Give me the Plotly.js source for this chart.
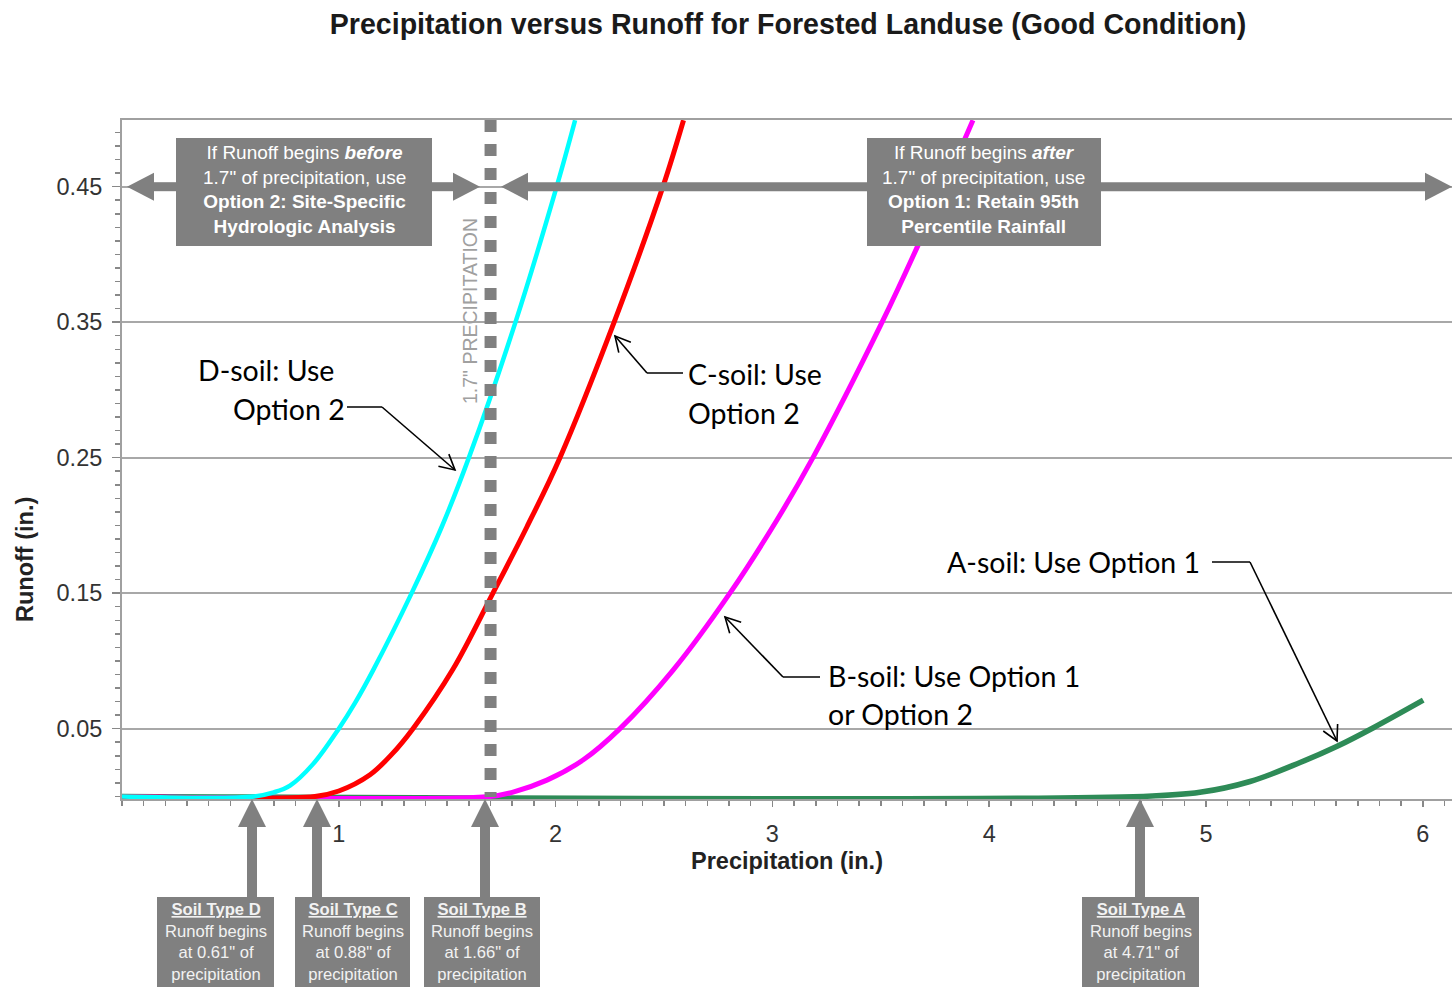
<!DOCTYPE html>
<html>
<head>
<meta charset="utf-8">
<script src="https://cdn.plot.ly/plotly-3.0.1.min.js"></script>
<style>html,body{margin:0;padding:0;background:#fff;}#chart{width:1452px;height:987px;}</style>
</head>
<body>
<div id="chart"></div>
<script>
// ---------- DATA ----------
const precipD = [0, 0.61, 0.70, 0.775, 0.882, 1.0, 1.075, 1.158, 1.336, 1.475, 1.60, 1.815, 2.005, 2.09];
const runoffD = [0, 0, 0.003, 0.008, 0.024, 0.05, 0.069, 0.093, 0.15, 0.199, 0.25, 0.35, 0.45, 0.499];

const precipC = [0, 0.89, 1.0, 1.144, 1.244, 1.342, 1.527, 1.711, 1.868, 2.02, 2.27, 2.495, 2.59];
const runoffC = [0, 0, 0.004, 0.016, 0.031, 0.05, 0.094, 0.15, 0.199, 0.25, 0.35, 0.45, 0.499];

const precipB = [0, 1.697, 1.80, 1.96, 2.128, 2.297, 2.541, 2.804, 3.021, 3.187, 3.506, 3.681, 3.925];
const runoffB = [0, 0, 0.003, 0.012, 0.027, 0.05, 0.093, 0.15, 0.204, 0.25, 0.35, 0.41, 0.499];

const precipA = [0, 4.71, 4.972, 5.203, 5.434, 5.605, 5.77, 6.002];
const runoffA = [0, 0, 0.003, 0.011, 0.025, 0.037, 0.0505, 0.071];

const xTickVals = [1, 2, 3, 4, 5, 6];
const xTickText = ['1', '2', '3', '4', '5', '6'];
const yTickVals = [0.05, 0.15, 0.25, 0.35, 0.45];
const yTickText = ['0.05', '0.15', '0.25', '0.35', '0.45'];

const thresholdPrecip = 1.7;
const onsetLabels = ['0.61', '0.88', '1.66', '4.71'];
const soilNames = ['D', 'C', 'B', 'A'];

// ---------- LAYOUT HELPERS (page pixels -> paper) ----------
const PL = 122, PR = 1452, PT = 120, PB = 799;
const px2x = p => (p - PL) / (PR - PL);
const py2y = p => (PB - p) / (PB - PT);
const GREY = '#808080';
const FONT = 'Liberation Sans, Arial, sans-serif';
const CALLFONT = 'Lato, Open Sans, sans-serif';

const shapes = [];
function rectPx(x0, y0, x1, y1, color, layer) {
  shapes.push({type: 'rect', xref: 'paper', yref: 'paper',
    x0: px2x(x0), x1: px2x(x1), y0: py2y(y1), y1: py2y(y0),
    fillcolor: color, line: {width: 0}, layer: layer || 'above'});
}
function polyPx(pts, color, layer) {
  const d = pts.map((p, i) => (i ? 'L' : 'M') + px2x(p[0]) + ',' + py2y(p[1])).join(' ') + ' Z';
  shapes.push({type: 'path', xref: 'paper', yref: 'paper', path: d,
    fillcolor: color, line: {width: 0}, layer: layer || 'above'});
}
function linePx(x0, y0, x1, y1, color, width) {
  shapes.push({type: 'line', xref: 'paper', yref: 'paper',
    x0: px2x(x0), y0: py2y(y0), x1: px2x(x1), y1: py2y(y1),
    line: {color: color, width: width}, layer: 'above'});
}
function vHead(tx, ty, fx, fy) {
  const L = 17, a = 28 * Math.PI / 180;
  const dx = tx - fx, dy = ty - fy, n = Math.hypot(dx, dy);
  const ux = dx / n, uy = dy / n;
  const r = s => [tx - L * (ux * Math.cos(s * a) - uy * Math.sin(s * a)),
                  ty - L * (ux * Math.sin(s * a) + uy * Math.cos(s * a))];
  const p1 = r(1), p2 = r(-1);
  const d = 'M' + px2x(p1[0]) + ',' + py2y(p1[1]) + ' L' + px2x(tx) + ',' + py2y(ty) +
            ' L' + px2x(p2[0]) + ',' + py2y(p2[1]);
  shapes.push({type: 'path', xref: 'paper', yref: 'paper', path: d,
    line: {color: '#000', width: 1.6}, layer: 'above'});
}
function callout(pts) {
  for (let i = 0; i < pts.length - 1; i++) linePx(pts[i][0], pts[i][1], pts[i + 1][0], pts[i + 1][1], '#000', 1.6);
  const n = pts.length;
  vHead(pts[n - 1][0], pts[n - 1][1], pts[n - 2][0], pts[n - 2][1]);
}

// ---- horizontal grey double arrows at 0.45 ----
const AY = 186.7, SH = 4.5, HH = 14, HL = 27;
rectPx(127 + HL - 1, AY - SH, 177, AY + SH, GREY, 'above');
polyPx([[127, AY], [127 + HL, AY - HH], [127 + HL, AY + HH]], GREY, 'above');
rectPx(431, AY - SH, 480 - HL + 1, AY + SH, GREY, 'above');
polyPx([[480, AY], [480 - HL, AY - HH], [480 - HL, AY + HH]], GREY, 'above');
rectPx(501 + HL - 1, AY - SH, 868, AY + SH, GREY, 'above');
polyPx([[501, AY], [501 + HL, AY - HH], [501 + HL, AY + HH]], GREY, 'above');
rectPx(1100, AY - SH, 1452 - HL + 1, AY + SH, GREY, 'above');
polyPx([[1452, AY], [1452 - HL, AY - HH], [1452 - HL, AY + HH]], GREY, 'above');

// ---- top boxes ----
rectPx(176, 138, 432, 246, GREY, 'above');
rectPx(867, 138, 1101, 246, GREY, 'above');

// ---- threshold dotted line ----
shapes.push({type: 'line', xref: 'x', yref: 'paper', x0: thresholdPrecip, x1: thresholdPrecip,
  y0: 1, y1: py2y(797), line: {color: GREY, width: 12, dash: '12px,12px'}, layer: 'above'});

// ---- bottom boxes and upward arrows ----
const boxes = [[157, 274, 252], [295, 410, 317], [424, 540, 485], [1082, 1199, 1140]];
boxes.forEach(b => {
  rectPx(b[0], 897, b[1], 990, GREY, 'above');
  rectPx(b[2] - 5, 826, b[2] + 5, 898, GREY, 'above');
  polyPx([[b[2], 799], [b[2] - 14, 827], [b[2] + 14, 827]], GREY, 'above');
});

// ---- black callouts ----
callout([[347, 407], [382, 407], [455, 470]]);
callout([[683, 373], [647, 373], [615, 336]]);
callout([[820, 677], [783, 677], [725, 617]]);
callout([[1212, 562], [1250, 562], [1337, 741]]);

// ---------- ANNOTATIONS ----------
const annotations = [];
function textPx(x, y, text, opts) {
  annotations.push(Object.assign({xref: 'paper', yref: 'paper', x: px2x(x), y: py2y(y),
    text: text, showarrow: false, xanchor: 'center', yanchor: 'middle'}, opts));
}
textPx(304, 189, 'If Runoff begins <b><i>before</i></b><br>1.7" of precipitation, use<br><b>Option 2: Site-Specific</b><br><b>Hydrologic Analysis</b>',
  {font: {family: FONT, size: 19, color: '#ffffff'}, align: 'center'});
textPx(984, 189, 'If Runoff begins <b><i>after</i></b><br>1.7" of precipitation, use<br><b>Option 1: Retain 95th</b><br><b>Percentile Rainfall</b>',
  {font: {family: FONT, size: 19, color: '#ffffff'}, align: 'center'});
textPx(470, 311, '1.7" PRECIPITATION', {textangle: -90, font: {family: FONT, size: 19.5, color: '#a0a0a0'}});

boxes.forEach((b, i) => {
  textPx((b[0] + b[1]) / 2, 942, '<b><u>Soil Type ' + soilNames[i] + '</u></b><br>Runoff begins<br>at ' + onsetLabels[i] + '" of<br>precipitation',
    {font: {family: FONT, size: 16.6, color: '#f2f2f2'}, align: 'center'});
});

const cf = {family: CALLFONT, size: 28.5, color: '#000'};
textPx(196, 370, 'D-soil: Use', {xanchor: 'left', font: cf});
textPx(231, 409, 'Option 2', {xanchor: 'left', font: cf});
textPx(686, 374, 'C-soil: Use', {xanchor: 'left', font: cf});
textPx(686, 413, 'Option 2', {xanchor: 'left', font: cf});
textPx(945, 562, 'A-soil: Use Option 1', {xanchor: 'left', font: cf});
textPx(826, 676, 'B-soil: Use Option 1', {xanchor: 'left', font: cf});
textPx(826, 714, 'or Option 2', {xanchor: 'left', font: cf});

textPx(25, 560, '<b>Runoff (in.)</b>', {textangle: -90, font: {family: FONT, size: 23.5, color: '#222'}});

// ---------- TRACES ----------
function curve(x, y, color, w, name) {
  return {x: x, y: y, type: 'scatter', mode: 'lines', name: name,
    line: {color: color, width: w, shape: 'spline', smoothing: 1.0}, hoverinfo: 'skip'};
}
const traces = [
  curve(precipA, runoffA, '#2e8b57', 5.5, 'Soil Type A'),
  curve(precipB, runoffB, '#ff00ff', 5, 'Soil Type B'),
  curve(precipC, runoffC, '#ff0000', 5, 'Soil Type C'),
  curve(precipD, runoffD, '#00ffff', 4.5, 'Soil Type D')
];

const layout = {
  width: 1452, height: 987,
  margin: {l: PL, r: 1452 - PR, t: PT, b: 987 - PB, pad: 0},
  paper_bgcolor: '#ffffff', plot_bgcolor: '#ffffff',
  showlegend: false,
  font: {family: FONT, color: '#333'},
  title: {text: '<b>Precipitation versus Runoff for Forested Landuse (Good Condition)</b>',
    font: {family: FONT, size: 28.6, color: '#1a1a1a'},
    x: 788 / 1452, xanchor: 'center', xref: 'container', y: 1 - 24 / 987, yanchor: 'middle', yref: 'container'},
  xaxis: {
    range: [0, (PR - PL) / 216.8], showgrid: false, zeroline: false,
    showline: true, linecolor: '#a0a0a0', linewidth: 2, mirror: true,
    tickmode: 'array', tickvals: xTickVals, ticktext: xTickText,
    ticks: 'outside', ticklen: 6, tickcolor: '#888', tickwidth: 1.5,
    tickfont: {family: FONT, size: 23.5, color: '#333'}, ticklabelstandoff: 7,
    minor: {tickmode: 'linear', tick0: 0, dtick: 0.1, ticks: 'outside', ticklen: 5, tickcolor: '#888', tickwidth: 1.5, showgrid: false},
    title: {text: '<b>Precipitation (in.)</b>', font: {family: FONT, size: 23.5, color: '#222'}, standoff: 6},
    fixedrange: true
  },
  yaxis: {
    range: [-(PB - 796.4) / 1355, (796.4 - PT) / 1355], showgrid: true, gridcolor: '#a8a8a8', gridwidth: 2,
    zeroline: false, showline: true, linecolor: '#a0a0a0', linewidth: 2,
    tickmode: 'array', tickvals: yTickVals, ticktext: yTickText,
    ticks: 'outside', ticklen: 8, tickcolor: '#888', tickwidth: 1.5,
    tickfont: {family: FONT, size: 23.5, color: '#333'}, ticklabelstandoff: 5,
    minor: {tickmode: 'linear', tick0: 0, dtick: 0.01, ticks: 'outside', ticklen: 5, tickcolor: '#888', tickwidth: 1.5, showgrid: false},
    fixedrange: true
  },
  shapes: shapes,
  annotations: annotations
};

Plotly.newPlot('chart', traces, layout, {displayModeBar: false, staticPlot: true});
</script>
</body>
</html>
